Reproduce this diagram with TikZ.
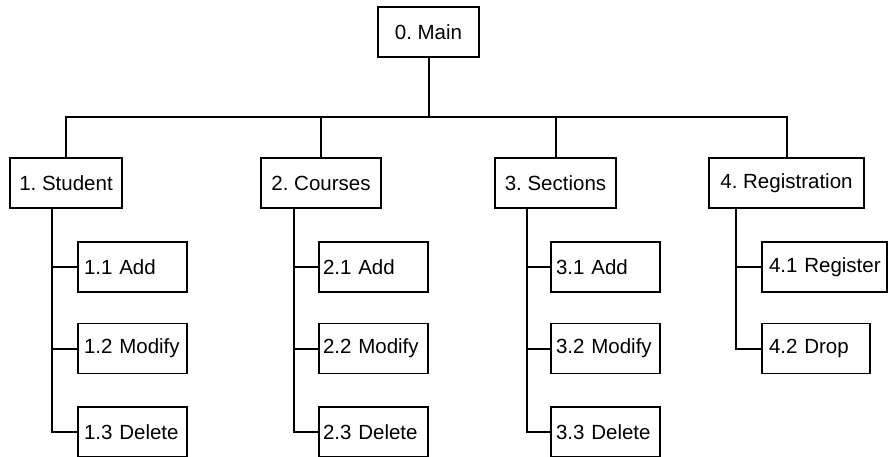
\documentclass[tikz,border=0pt]{standalone}
\usepackage{fontspec}
\setmainfont{Liberation Sans}
\frenchspacing
\begin{document}
\begin{tikzpicture}[x=1pt,y=-1pt,
  box/.style={draw=black, line width=1.2pt, minimum height=50pt, inner sep=0pt, font=\fontsize{20.5}{24}\selectfont},
  cbox/.style={box, align=center},
  lbox/.style={box, align=left, inner xsep=#1},
  conn/.style={draw=black, line width=2pt}]
\useasboundingbox (0,0) rectangle (889,456);
% level 0
\node[cbox, minimum width=101pt] (main) at (428.5,32) {0. Main};
% level 1
\node[cbox, minimum width=112pt] (s1) at (66,183) {1. Student};
\node[cbox, minimum width=120pt] (s2) at (321,183) {2. Courses};
\node[cbox, minimum width=121pt] (s3) at (555.5,183) {3. Sections};
\node[cbox, minimum width=155pt] (s4) at (786.5,183) {4. Registration};
% level 2
\node[lbox=6pt, text width=97pt] (a11) at (132.5,267) {\mbox{1.1 Add}};
\node[lbox=6pt, text width=97pt] (a12) at (132.5,348.5) {\mbox{1.2 Modify}};
\node[lbox=6pt, text width=97pt] (a13) at (132.5,432) {\mbox{1.3 Delete}};
\node[lbox=4pt, text width=101pt] (a21) at (373.5,267) {\mbox{2.1 Add}};
\node[lbox=4pt, text width=101pt] (a22) at (373.5,348.5) {\mbox{2.2 Modify}};
\node[lbox=4pt, text width=101pt] (a23) at (373.5,432) {\mbox{2.3 Delete}};
\node[lbox=5pt, text width=99pt] (a31) at (605.5,267) {\mbox{3.1 Add}};
\node[lbox=5pt, text width=99pt] (a32) at (605.5,348.5) {\mbox{3.2 Modify}};
\node[lbox=5pt, text width=99pt] (a33) at (605.5,432) {\mbox{3.3 Delete}};
\node[lbox=7pt, text width=111pt] (a41) at (824.5,267) {\mbox{4.1 Register}};
\node[lbox=7pt, text width=94pt] (a42) at (816,348.5) {\mbox{4.2 Drop}};
% bus
\coordinate (busy) at (0,117);
\coordinate (v1) at (52,0);
\coordinate (v2) at (294,0);
\coordinate (v3) at (527,0);
\coordinate (v4) at (736,0);
\draw[conn] (main.south) -- (main.south |- busy);
\draw[conn] (s1.north) |- (s4.north |- busy) -- (s4.north);
\draw[conn] (s2.north) -- (s2.north |- busy);
\draw[conn] (s3.north) -- (s3.north |- busy);
% branches
\draw[conn] (v1 |- s1.south) |- (a13.west);
\draw[conn] (v1 |- a11.west) -- (a11.west);
\draw[conn] (v1 |- a12.west) -- (a12.west);
\draw[conn] (v2 |- s2.south) |- (a23.west);
\draw[conn] (v2 |- a21.west) -- (a21.west);
\draw[conn] (v2 |- a22.west) -- (a22.west);
\draw[conn] (v3 |- s3.south) |- (a33.west);
\draw[conn] (v3 |- a31.west) -- (a31.west);
\draw[conn] (v3 |- a32.west) -- (a32.west);
\draw[conn] (v4 |- s4.south) |- (a42.west);
\draw[conn] (v4 |- a41.west) -- (a41.west);
\end{tikzpicture}
\end{document}
